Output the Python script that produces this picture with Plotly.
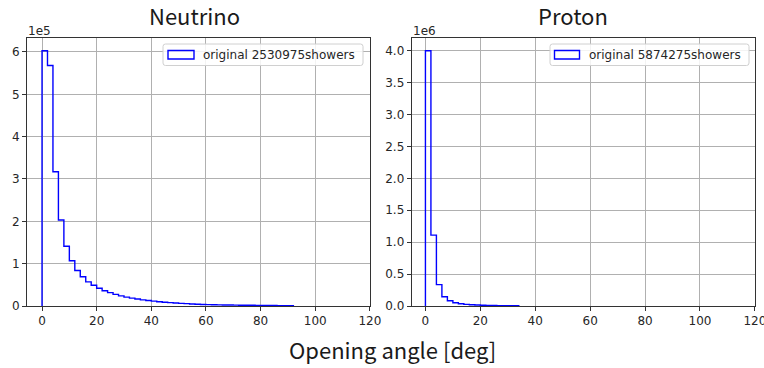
import plotly.graph_objects as go

# ---------------- data ----------------
bin_width = 2
neutrino_counts = [
    603000, 568000, 317000, 203000, 141000, 107000, 84000, 69000, 57000, 49000,
    42000, 36000, 31500, 27500, 24000, 21000, 18500, 16500, 14500, 13000,
    11500, 10200, 9000, 8000, 7000, 6200, 5500, 4900, 4300, 3700,
    3300, 3000, 2700, 2500, 2300, 2100, 1900, 1750, 1600, 1450,
    1300, 1200, 1100, 1000, 900, 800,
]
proton_counts = [
    4000000, 1110000, 335000, 145000, 82000, 52000, 36000, 26000, 19500,
    15000, 12000, 9500, 7800, 6400, 5300, 4400, 3700,
]
neutrino_label = "original 2530975showers"
proton_label = "original 5874275showers"
x_ticks = [0, 20, 40, 60, 80, 100, 120]
neutrino_yticks = [0, 1, 2, 3, 4, 5, 6]
proton_yticks = [0.0, 0.5, 1.0, 1.5, 2.0, 2.5, 3.0, 3.5, 4.0]

W, H = 764, 368


def X(px):
    return px / W


def Y(py):
    return 1 - py / H


def step_xy(counts, width):
    edges = [i * width for i in range(len(counts) + 1)]
    xs = [edges[0], edges[0]] + edges[1:] + [edges[-1]]
    ys = [0] + list(counts) + [counts[-1], 0]
    return xs, ys


fig = go.Figure()

nx, ny = step_xy(neutrino_counts, bin_width)
px_, py_ = step_xy(proton_counts, bin_width)

fig.add_trace(go.Scatter(x=nx, y=ny, mode="lines", line=dict(color="#0000ff", width=1.4, shape="hv"),
                         showlegend=False, xaxis="x", yaxis="y", hoverinfo="skip"))
fig.add_trace(go.Scatter(x=px_, y=py_, mode="lines", line=dict(color="#0000ff", width=1.4, shape="hv"),
                         showlegend=False, xaxis="x2", yaxis="y2", hoverinfo="skip"))

tickfont = dict(family="DejaVu Sans", size=12, color="#262626")
common_x = dict(range=[-5.5, 120.05], tickvals=x_ticks, ticktext=[str(v) for v in x_ticks],
                showgrid=True, gridcolor="#b0b0b0", gridwidth=1, zeroline=False,
                showline=True, linecolor="#333333", linewidth=1, mirror=True, automargin=False,
                ticklabeloverflow="allow",
                ticks="outside", ticklen=4, tickcolor="#333333", tickfont=tickfont)
common_y = dict(showgrid=True, gridcolor="#b0b0b0", gridwidth=1, zeroline=False,
                showline=True, linecolor="#333333", linewidth=1, mirror=True, automargin=False,
                ticks="outside", ticklen=4, tickcolor="#333333", tickfont=tickfont)

L1, R1 = 27, 370
L2, R2 = 411.7, 755
TOP, BOT = 38, 306

fig.update_layout(
    width=W, height=H,
    margin=dict(l=0, r=0, t=0, b=0, autoexpand=False),
    paper_bgcolor="white", plot_bgcolor="white",
    showlegend=False,
    xaxis=dict(domain=[X(L1), X(R1)], anchor="y", **common_x),
    yaxis=dict(domain=[Y(BOT), Y(TOP)], anchor="x", range=[0, 6.33e5],
               tickvals=[v * 1e5 for v in neutrino_yticks], ticktext=[str(v) for v in neutrino_yticks],
               **common_y),
    xaxis2=dict(domain=[X(L2), X(R2)], anchor="y2", **dict(common_x, range=[-5, 120.05])),
    yaxis2=dict(domain=[Y(BOT), Y(TOP)], anchor="x2", range=[0, 4.2e6],
                tickvals=[v * 1e6 for v in proton_yticks], ticktext=["%.1f" % v for v in proton_yticks],
                **common_y),
)

title_font = dict(family="Noto Sans CJK JP", size=22, color="#1a1a1a", weight=400)
small_font = dict(family="DejaVu Sans", size=12, color="#262626")
annotations = [
    dict(text="Neutrino", x=X(194.5), y=Y(15), xref="paper", yref="paper",
         xanchor="center", yanchor="middle", showarrow=False, font=title_font),
    dict(text="Proton", x=X(573), y=Y(15), xref="paper", yref="paper",
         xanchor="center", yanchor="middle", showarrow=False, font=title_font),
    dict(text="Opening angle [deg]", x=X(392), y=Y(349), xref="paper", yref="paper",
         xanchor="center", yanchor="middle", showarrow=False, font=title_font),
    dict(text="1e5", x=X(26), y=Y(31), xref="paper", yref="paper",
         xanchor="left", yanchor="middle", showarrow=False, font=small_font),
    dict(text="1e6", x=X(410.5), y=Y(31), xref="paper", yref="paper",
         xanchor="left", yanchor="middle", showarrow=False, font=small_font),
    dict(text=neutrino_label, x=X(201), y=Y(54.5), xref="paper", yref="paper",
         xanchor="left", yanchor="middle", showarrow=False, font=small_font),
    dict(text=proton_label, x=X(587), y=Y(54.5), xref="paper", yref="paper",
         xanchor="left", yanchor="middle", showarrow=False, font=small_font),
]


def rounded_box(x0, y0, x1, y1, r=2.5):
    pts = [
        f"M{X(x0 + r)},{Y(y0)}", f"L{X(x1 - r)},{Y(y0)}", f"Q{X(x1)},{Y(y0)} {X(x1)},{Y(y0 + r)}",
        f"L{X(x1)},{Y(y1 - r)}", f"Q{X(x1)},{Y(y1)} {X(x1 - r)},{Y(y1)}",
        f"L{X(x0 + r)},{Y(y1)}", f"Q{X(x0)},{Y(y1)} {X(x0)},{Y(y1 - r)}",
        f"L{X(x0)},{Y(y0 + r)}", f"Q{X(x0)},{Y(y0)} {X(x0 + r)},{Y(y0)}", "Z",
    ]
    return " ".join(pts)


shapes = []
for (bx0, bx1, patch0, patch1) in [(163, 363, 168, 194), (550, 749, 554.5, 579.5)]:
    shapes.append(dict(type="path", path=rounded_box(bx0, 44, bx1, 65.5), xref="paper", yref="paper",
                       fillcolor="rgba(255,255,255,0.85)", line=dict(color="#d0d0d0", width=1), layer="above"))
    shapes.append(dict(type="rect", x0=X(patch0), x1=X(patch1), y0=Y(50.5), y1=Y(59),
                       xref="paper", yref="paper", fillcolor="rgba(0,0,0,0)",
                       line=dict(color="#0000ff", width=1.4), layer="above"))

fig.update_layout(annotations=annotations, shapes=shapes)

fig.write_html("out.html", config={"displayModeBar": False},
               post_script="document.body.style.margin='0';document.body.style.overflow='hidden';")
